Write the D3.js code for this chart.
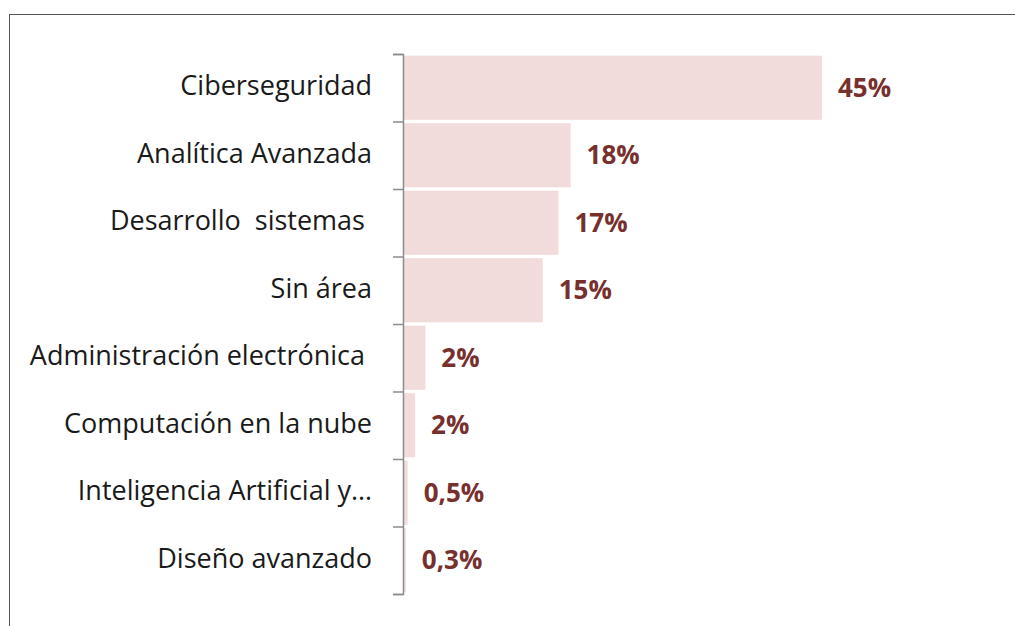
<!DOCTYPE html>
<html>
<head>
<meta charset="utf-8">
<script src="https://cdn.jsdelivr.net/npm/d3@7"></script>
<style>
  html, body { margin: 0; padding: 0; background: #fff; }
  svg { display: block; }
  .cat { font-family: "Open Sans", sans-serif; font-size: 27px; fill: #1a1a1a; }
  .val { font-family: "Open Sans", sans-serif; font-size: 26px; font-weight: bold; fill: #77302d; }
</style>
</head>
<body>
<svg id="bar-chart" width="1015" height="626"></svg>
<script>
// chart data
var categories = ["Ciberseguridad", "Analítica Avanzada", "Desarrollo  sistemas ", "Sin área",
                  "Administración electrónica ", "Computación en la nube", "Inteligencia Artificial y…", "Diseño avanzado"];
var values = [45, 18, 16.7, 15, 2.4, 1.3, 0.5, 0.3];
var valueLabels = ["45%", "18%", "17%", "15%", "2%", "2%", "0,5%", "0,3%"];

var svg = d3.select("svg#bar-chart");
var margin = { top: 54, left: 403, bottom: 32 };

// frame around the chart (runs off right and bottom edge)
svg.append("rect")
    .attr("x", 9.5).attr("y", 14.5)
    .attr("width", 1100).attr("height", 700)
    .attr("fill", "none")
    .attr("stroke", "#555")
    .attr("stroke-width", 1);

var g = svg.append("g").attr("transform", "translate(" + margin.left + "," + margin.top + ")");

var y = d3.scaleBand()
    .domain(categories)
    .range([0, 540])
    .paddingInner(0.05)
    .paddingOuter(0.025);

var x = d3.scaleLinear()
    .domain([0, 45])
    .range([0, 419]);

// bars
g.selectAll("rect.bar")
    .data(values)
    .enter().append("rect")
    .attr("class", "bar")
    .attr("x", x(0))
    .attr("y", (d, i) => y(categories[i]))
    .attr("width", (d) => x(d))
    .attr("height", y.bandwidth())
    .attr("fill", "#f2dcdb");

// axis with ticks at category boundaries
var yEdges = d3.scaleLinear().domain([0, categories.length]).range([0, 540]);
var axis = g.append("g")
    .call(d3.axisLeft(yEdges).ticks(categories.length).tickSize(10).tickFormat(""));
axis.selectAll("path, line").attr("stroke", "#8c8c8c").attr("stroke-width", 1.5);

// category labels
g.selectAll("text.cat")
    .data(categories)
    .enter().append("text")
    .attr("class", "cat")
    .attr("x", -31)
    .attr("y", (d) => y(d) + y.bandwidth() / 2 - 2)
    .attr("dy", "0.35em")
    .attr("text-anchor", "end")
    .style("white-space", "pre")
    .text((d) => d);

// value labels
g.selectAll("text.val")
    .data(values)
    .enter().append("text")
    .attr("class", "val")
    .attr("x", (d) => x(d) + 16)
    .attr("y", (d, i) => y(categories[i]) + y.bandwidth() / 2)
    .attr("dy", "0.35em")
    .text((d, i) => valueLabels[i]);
</script>
</body>
</html>
